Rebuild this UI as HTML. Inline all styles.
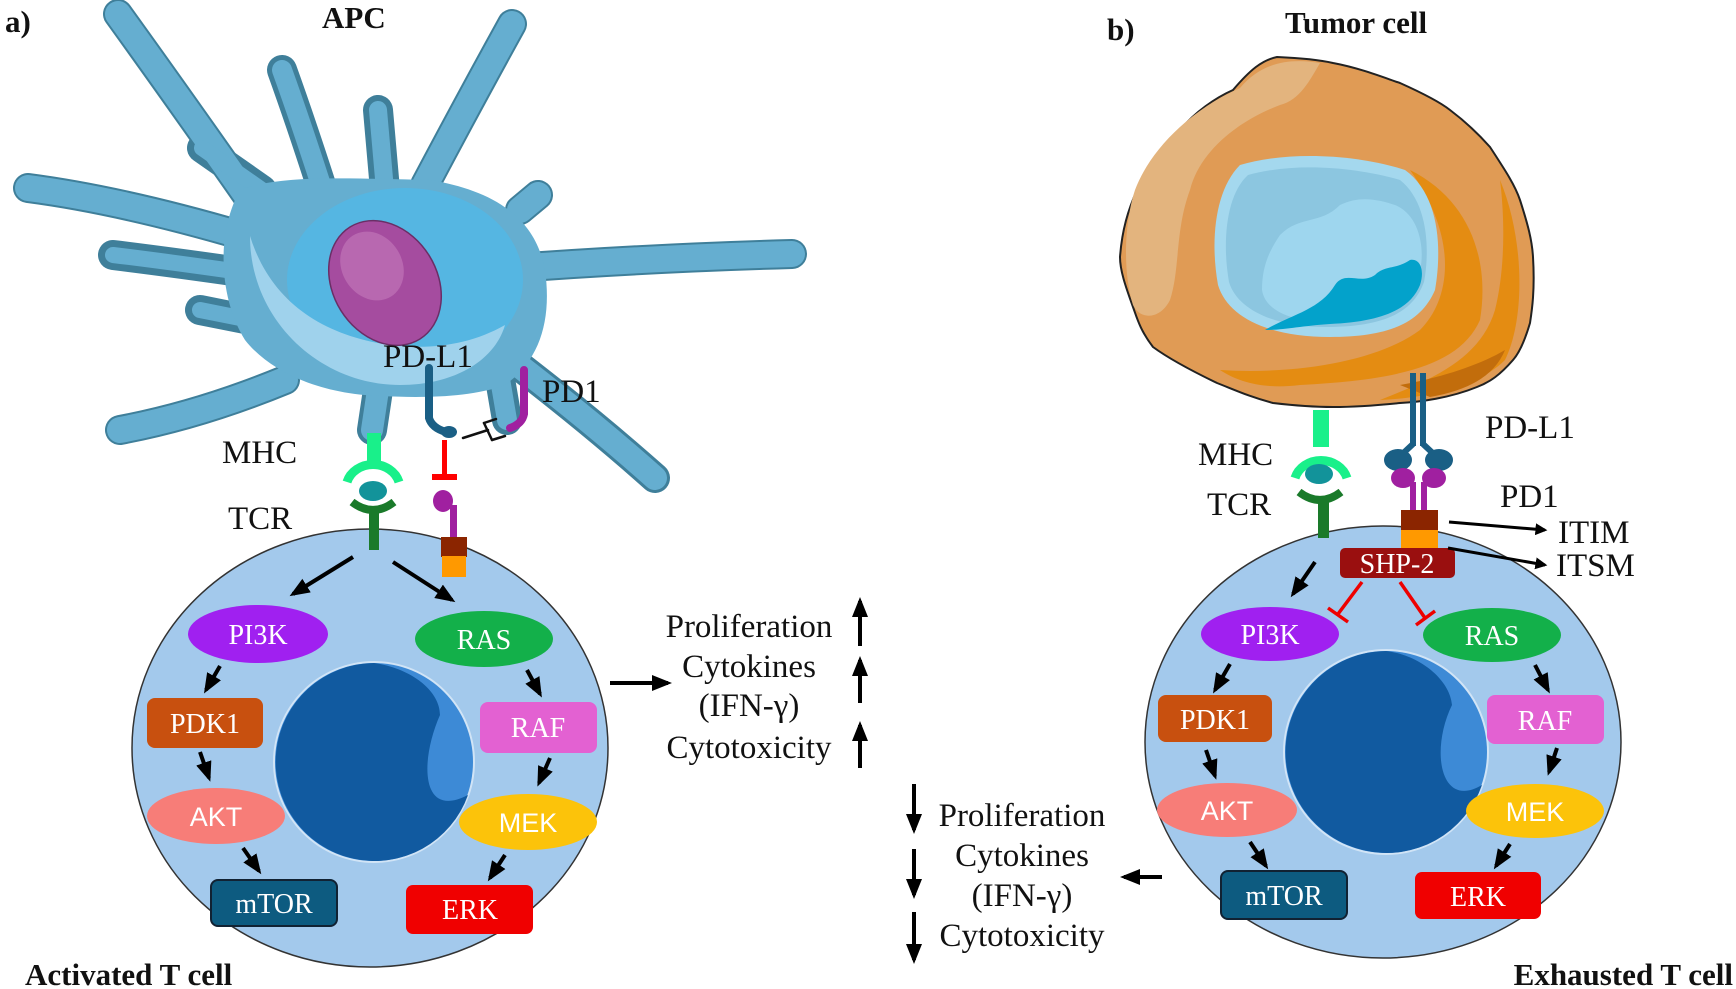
<!DOCTYPE html>
<html><head><meta charset="utf-8">
<style>
html,body{margin:0;padding:0;background:#fff;}
svg{display:block;}
text{font-family:"Liberation Serif",serif;}
.lbl{font-size:33px;fill:#111;}
.nd{font-size:28px;fill:#fff;text-anchor:middle;font-family:"Liberation Serif",serif;}
.ns{font-family:"Liberation Sans",sans-serif;font-size:27px;fill:#fff;text-anchor:middle;}
.ttl{font-size:31px;font-weight:bold;fill:#111;}
</style></head>
<body>
<svg width="1736" height="989" viewBox="0 0 1736 989" xmlns="http://www.w3.org/2000/svg">
<defs>
<marker id="ah" viewBox="0 0 10 10" refX="8" refY="5" markerWidth="4" markerHeight="4" orient="auto-start-reverse">
<path d="M0,0 L10,5 L0,10 z" fill="#000"/></marker>
<marker id="ah2" viewBox="0 0 10 10" refX="8" refY="5" markerWidth="5" markerHeight="5" orient="auto">
<path d="M0,1 L10,5 L0,9 z" fill="#000"/></marker>
</defs>

<!-- ========== APC ========== -->
<g stroke-linecap="round" fill="none">
 <g stroke="#3f7f9a" stroke-width="30">
  <path d="M250,200 Q180,100 118,14"/>
  <path d="M321,185 Q300,120 282,70"/>
  <path d="M385,190 L378,110"/>
  <path d="M425,185 Q470,100 512,24"/>
  <path d="M240,235 Q120,200 28,188"/>
  <path d="M240,272 Q170,262 113,255"/>
  <path d="M262,190 L202,148"/>
  <path d="M260,322 L200,310"/>
  <path d="M285,380 Q200,415 120,430"/>
  <path d="M378,390 L372,430"/>
  <path d="M500,379 L507,420"/>
  <path d="M505,355 Q590,420 655,478"/>
  <path d="M515,268 Q650,258 792,254"/>
  <path d="M520,210 L538,195"/>
 </g>
 <g stroke="#65aed0" stroke-width="26">
  <path d="M250,200 Q180,100 118,14"/>
  <path d="M321,185 Q300,120 282,70" stroke-width="20"/>
  <path d="M385,190 L378,110" stroke-width="18"/>
  <path d="M425,185 Q470,100 512,24"/>
  <path d="M240,235 Q120,200 28,188"/>
  <path d="M240,272 Q170,262 113,255" stroke-width="16"/>
  <path d="M262,190 L202,148" stroke-width="16"/>
  <path d="M260,322 L200,310" stroke-width="16"/>
  <path d="M285,380 Q200,415 120,430"/>
  <path d="M378,390 L372,430" stroke-width="22"/>
  <path d="M500,379 L507,420" stroke-width="20"/>
  <path d="M505,355 Q590,420 655,478" stroke-width="24"/>
  <path d="M515,268 Q650,258 792,254"/>
  <path d="M520,210 L538,195"/>
 </g>
</g>
<path d="M240,190 C280,175 340,178 430,180 C490,190 535,215 545,270 C552,320 540,360 505,385 C470,398 420,398 380,396 C320,394 270,372 245,340 C220,300 215,235 240,190 z" fill="#65aed0"/>
<ellipse cx="405" cy="280" rx="118" ry="92" fill="#55b6e2"/>
<path d="M250,236 C250,320 320,385 400,385 C455,385 495,360 505,325 C470,345 430,350 390,345 C320,335 270,300 250,236 z" fill="#9fd2ec"/>
<ellipse cx="385" cy="283" rx="52" ry="66" transform="rotate(-32 385 283)" fill="#a54c9f" stroke="#6a2e66" stroke-width="1.5"/>
<ellipse cx="372" cy="266" rx="30" ry="36" transform="rotate(-32 372 266)" fill="#b868b0"/>

<!-- APC labels -->
<text x="5" y="32" class="ttl">a)</text>
<text x="322" y="28" class="ttl">APC</text>
<text x="383" y="367" class="lbl">PD-L1</text>
<text x="542" y="402" class="lbl">PD1</text>
<text x="222" y="463" class="lbl">MHC</text>
<text x="228" y="529" class="lbl">TCR</text>

<!-- PD-L1 on APC -->
<path d="M429,368 L429,418 Q432,428 446,432" stroke="#1a5f85" stroke-width="8" fill="none" stroke-linecap="round"/>
<ellipse cx="449" cy="432" rx="8" ry="6" fill="#1a5f85"/>
<!-- PD1 on APC -->
<path d="M524,370 L524,414 Q522,424 510,428" stroke="#a020a0" stroke-width="8" fill="none" stroke-linecap="round"/>
<!-- blocked symbol -->
<g stroke="#111" stroke-width="2.5" fill="none" stroke-linecap="round">
 <line x1="463" y1="438" x2="488" y2="430"/>
 <line x1="484" y1="423" x2="492" y2="440"/>
 <line x1="484" y1="423" x2="496" y2="419"/>
 <line x1="492" y1="440" x2="505" y2="436"/>
</g>
<!-- red T -->
<rect x="442" y="440" width="5" height="35" fill="#f00"/>
<rect x="432" y="474" width="25" height="6" fill="#f00"/>
<!-- PD1 lower -->
<ellipse cx="443" cy="501" rx="10" ry="11" fill="#a020a0"/>
<rect x="450" y="505" width="7" height="34" fill="#a020a0"/>

<!-- MHC/TCR left -->
<rect x="367" y="433" width="14" height="30" fill="#19f08a"/>
<path d="M347,482 A27,24 0 0 1 399,482" stroke="#19f08a" stroke-width="9" fill="none"/>
<ellipse cx="373" cy="491" rx="14" ry="10" fill="#12939a"/>
<path d="M352,502 Q373,518 394,502" stroke="#1a7a2a" stroke-width="8" fill="none"/>

<!-- ========== Left T cell ========== -->
<ellipse cx="370" cy="748" rx="238" ry="219" fill="#a3c9ec" stroke="#333" stroke-width="1.5"/>
<rect x="369" y="508" width="10" height="42" fill="#1a7a2a"/>
<rect x="441" y="537" width="26" height="20" fill="#8b2500"/>
<rect x="442" y="556" width="24" height="21" fill="#ff9900"/>
<circle cx="374" cy="762" r="101" fill="#fff" opacity="0.5"/>
<circle cx="374" cy="762" r="99" fill="#3d8ad6"/>
<path d="M374,663 A99,99 0 1 0 468,795 C420,820 420,760 440,715 C440,690 410,668 374,663 z" fill="#115aa0"/>

<g stroke="#000" stroke-width="4" marker-end="url(#ah2)" fill="none">
 <line x1="353" y1="557" x2="293" y2="594"/>
 <line x1="393" y1="562" x2="452" y2="600"/>
 <line x1="220" y1="666" x2="206" y2="690"/>
 <line x1="200" y1="752" x2="209" y2="778"/>
 <line x1="243" y1="848" x2="259" y2="871"/>
 <line x1="527" y1="670" x2="540" y2="694"/>
 <line x1="550" y1="758" x2="539" y2="783"/>
 <line x1="505" y1="855" x2="490" y2="878"/>
 <line x1="610" y1="683" x2="668" y2="683"/>
</g>

<ellipse cx="258" cy="634" rx="70" ry="29" fill="#a020f0"/>
<text x="258" y="644" class="nd">PI3K</text>
<ellipse cx="484" cy="639" rx="69" ry="28" fill="#13b04a"/>
<text x="484" y="649" class="nd">RAS</text>
<rect x="147" y="698" width="116" height="50" rx="8" fill="#c8500f"/>
<text x="205" y="733" class="nd">PDK1</text>
<rect x="480" y="702" width="117" height="51" rx="8" fill="#e361d2"/>
<text x="538" y="737" class="nd">RAF</text>
<ellipse cx="216" cy="816" rx="69" ry="28" fill="#f77d78"/>
<text x="216" y="826" class="ns">AKT</text>
<ellipse cx="528" cy="822" rx="69" ry="28" fill="#fcc30a"/>
<text x="528" y="832" class="ns">MEK</text>
<rect x="211" y="880" width="126" height="46" rx="7" fill="#0d5b80" stroke="#123" stroke-width="2"/>
<text x="274" y="913" class="nd">mTOR</text>
<rect x="406" y="885" width="127" height="49" rx="7" fill="#f00000"/>
<text x="470" y="919" class="nd">ERK</text>

<text x="25" y="985" class="ttl">Activated T cell</text>

<!-- up block -->
<g class="lbl" text-anchor="middle">
<text x="749" y="637">Proliferation</text>
<text x="749" y="677">Cytokines</text>
<text x="749" y="716">(IFN-γ)</text>
<text x="749" y="758">Cytotoxicity</text>
</g>
<g stroke="#000" stroke-width="4" marker-end="url(#ah2)">
 <line x1="860" y1="646" x2="860" y2="601"/>
 <line x1="860" y1="703" x2="860" y2="660"/>
 <line x1="860" y1="768" x2="860" y2="725"/>
</g>

<!-- ========== Tumor cell ========== -->
<path d="M1277,57 C1300,58 1320,60 1333,63 C1360,68 1385,78 1400,83 C1420,92 1440,102 1450,110 C1470,125 1482,138 1490,147 C1505,170 1515,185 1520,200 C1528,225 1532,240 1533,257 C1535,290 1532,310 1530,323 C1525,340 1520,352 1513,360 C1500,375 1490,382 1477,387 C1450,398 1420,402 1400,403 C1370,406 1350,407 1333,407 C1310,407 1290,405 1273,403 C1250,397 1235,390 1217,383 C1190,370 1168,358 1153,347 C1140,330 1137,318 1133,307 C1125,285 1120,270 1120,257 C1122,230 1128,210 1137,190 C1150,165 1165,145 1180,130 C1195,112 1215,98 1233,90 C1250,70 1262,60 1277,57 z" fill="#e09b55" stroke="#222" stroke-width="2"/>
<path d="M1135,190 C1150,150 1190,110 1240,88 C1262,62 1290,58 1320,63 C1310,80 1300,100 1280,105 C1240,120 1200,150 1190,190 C1175,230 1180,270 1170,300 C1160,320 1140,320 1133,305 C1122,270 1125,220 1135,190 z" fill="#e3b47e"/>
<path d="M1410,170 C1470,200 1490,260 1480,320 C1460,365 1400,380 1300,385 C1260,390 1235,380 1220,370 C1300,375 1380,360 1420,330 C1450,300 1460,240 1410,170 z" fill="#e48c12"/>
<path d="M1500,180 C1525,240 1525,320 1505,360 C1480,385 1430,398 1380,400 C1430,380 1480,360 1495,310 C1505,270 1505,220 1500,180 z" fill="#e48c12"/>
<path d="M1400,385 C1440,378 1480,365 1505,350 C1495,375 1470,390 1430,397 z" fill="#c26d0c"/>
<path d="M1240,165 C1290,150 1360,155 1405,170 C1440,195 1442,250 1435,290 C1420,325 1385,337 1330,337 C1270,337 1228,318 1218,285 C1210,240 1215,190 1240,165 z" fill="#a4d8ee"/>
<path d="M1248,175 C1295,162 1355,167 1400,180 C1428,202 1430,250 1424,282 C1412,315 1380,326 1330,327 C1280,328 1238,312 1229,282 C1222,242 1226,195 1248,175 z" fill="#8cc6e0"/>
<path d="M1280,235 C1300,215 1320,225 1340,205 C1360,195 1380,200 1395,205 C1420,215 1425,250 1420,270 C1410,300 1380,320 1330,322 C1290,322 1265,310 1262,290 C1262,265 1270,250 1280,235 z" fill="#9ed6ee"/>
<path d="M1265,330 C1290,315 1320,310 1335,285 C1345,270 1360,285 1375,275 C1385,265 1395,270 1410,260 C1420,258 1425,270 1420,285 C1410,310 1380,322 1330,324 C1300,326 1285,330 1265,330 z" fill="#03a2cb"/>

<text x="1107" y="40" class="ttl">b)</text>
<text x="1285" y="33" class="ttl">Tumor cell</text>

<!-- right MHC/TCR -->
<rect x="1313" y="410" width="16" height="37" fill="#19f08a"/>
<path d="M1295,478 A27,24 0 0 1 1347,478" stroke="#19f08a" stroke-width="9" fill="none"/>
<ellipse cx="1319" cy="474" rx="14" ry="10" fill="#12939a"/>
<path d="M1299,492 Q1320,508 1341,492" stroke="#1a7a2a" stroke-width="8" fill="none"/>
<text x="1198" y="465" class="lbl">MHC</text>
<text x="1207" y="515" class="lbl">TCR</text>

<!-- right PD-L1 / PD1 -->
<rect x="1410" y="373" width="6" height="73" fill="#1a5f85"/>
<rect x="1420" y="373" width="6" height="73" fill="#1a5f85"/>
<path d="M1413,444 L1398,458 M1423,444 L1438,458" stroke="#1a5f85" stroke-width="6"/>
<ellipse cx="1398" cy="460" rx="14" ry="11" fill="#1a5f85"/>
<ellipse cx="1439" cy="460" rx="14" ry="11" fill="#1a5f85"/>
<ellipse cx="1403" cy="478" rx="12" ry="10" fill="#a020a0"/>
<ellipse cx="1434" cy="478" rx="12" ry="10" fill="#a020a0"/>
<rect x="1410" y="482" width="6" height="30" fill="#a020a0"/>
<rect x="1421" y="482" width="6" height="30" fill="#a020a0"/>
<text x="1485" y="438" class="lbl">PD-L1</text>
<text x="1500" y="507" class="lbl">PD1</text>

<!-- right T cell -->
<ellipse cx="1383" cy="742" rx="238" ry="216" fill="#a3c9ec" stroke="#333" stroke-width="1.5"/>
<rect x="1318" y="500" width="11" height="38" fill="#1a7a2a"/>
<rect x="1401" y="510" width="37" height="21" fill="#8b2500"/>
<rect x="1401" y="530" width="37" height="19" fill="#ff9900"/>
<rect x="1340" y="548" width="115" height="30" rx="5" fill="#9a0f0f"/>
<text x="1397" y="573" class="nd">SHP-2</text>
<g stroke="#000" stroke-width="3" marker-end="url(#ah)" fill="none">
 <line x1="1449" y1="522" x2="1545" y2="530"/>
 <line x1="1448" y1="548" x2="1545" y2="565"/>
</g>
<text x="1558" y="543" class="lbl">ITIM</text>
<text x="1556" y="576" class="lbl">ITSM</text>
<circle cx="1386" cy="752" r="103" fill="#fff" opacity="0.5"/>
<circle cx="1386" cy="752" r="101" fill="#3d8ad6"/>
<path d="M1386,651 A101,101 0 1 0 1482,785 C1440,810 1430,750 1452,705 C1450,680 1420,655 1386,651 z" fill="#115aa0"/>

<!-- red inhibitions -->
<g stroke="#e00" stroke-width="3.5" fill="none">
 <line x1="1362" y1="582" x2="1338" y2="614"/>
 <line x1="1328" y1="608" x2="1348" y2="622"/>
 <line x1="1400" y1="582" x2="1425" y2="618"/>
 <line x1="1416" y1="625" x2="1435" y2="611"/>
</g>
<g stroke="#000" stroke-width="4" marker-end="url(#ah2)" fill="none">
 <line x1="1315" y1="562" x2="1293" y2="594"/>
 <line x1="1230" y1="664" x2="1215" y2="690"/>
 <line x1="1206" y1="750" x2="1215" y2="776"/>
 <line x1="1250" y1="842" x2="1266" y2="866"/>
 <line x1="1535" y1="665" x2="1548" y2="690"/>
 <line x1="1557" y1="748" x2="1549" y2="772"/>
 <line x1="1510" y1="844" x2="1496" y2="866"/>
 <line x1="1162" y1="877" x2="1124" y2="877"/>
</g>

<ellipse cx="1270" cy="634" rx="69" ry="27" fill="#a020f0"/>
<text x="1270" y="644" class="nd">PI3K</text>
<ellipse cx="1492" cy="635" rx="69" ry="27" fill="#13b04a"/>
<text x="1492" y="645" class="nd">RAS</text>
<rect x="1158" y="695" width="114" height="47" rx="8" fill="#c8500f"/>
<text x="1215" y="729" class="nd">PDK1</text>
<rect x="1487" y="695" width="117" height="49" rx="8" fill="#e361d2"/>
<text x="1545" y="730" class="nd">RAF</text>
<ellipse cx="1227" cy="810" rx="70" ry="27" fill="#f77d78"/>
<text x="1227" y="820" class="ns">AKT</text>
<ellipse cx="1535" cy="811" rx="69" ry="27" fill="#fcc30a"/>
<text x="1535" y="821" class="ns">MEK</text>
<rect x="1221" y="871" width="126" height="48" rx="7" fill="#0d5b80" stroke="#123" stroke-width="2"/>
<text x="1284" y="905" class="nd">mTOR</text>
<rect x="1415" y="872" width="126" height="47" rx="7" fill="#f00000"/>
<text x="1478" y="906" class="nd">ERK</text>

<!-- down block -->
<g class="lbl" text-anchor="middle">
<text x="1022" y="826">Proliferation</text>
<text x="1022" y="866">Cytokines</text>
<text x="1022" y="906">(IFN-γ)</text>
<text x="1022" y="946">Cytotoxicity</text>
</g>
<g stroke="#000" stroke-width="4" marker-end="url(#ah2)">
 <line x1="914" y1="784" x2="914" y2="830"/>
 <line x1="914" y1="849" x2="914" y2="895"/>
 <line x1="914" y1="912" x2="914" y2="960"/>
</g>

<text x="1733" y="985" class="ttl" text-anchor="end">Exhausted T cell</text>
</svg>
</body></html>
